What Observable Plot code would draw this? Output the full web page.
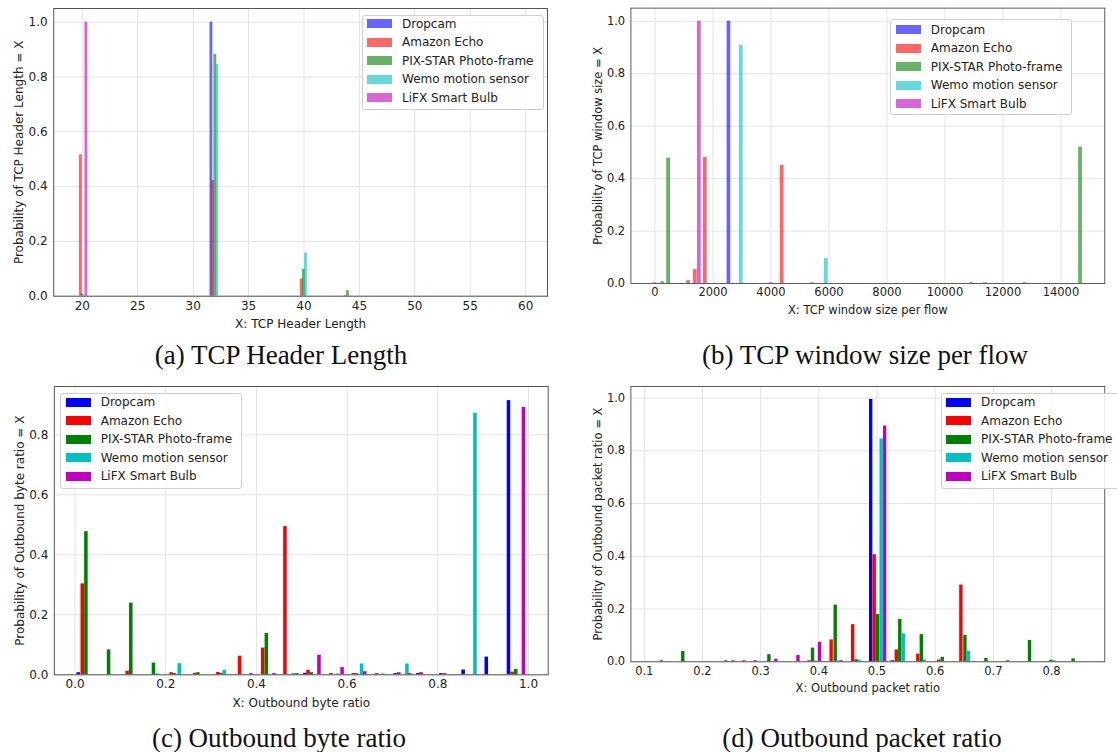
<!DOCTYPE html>
<html>
<head>
<meta charset="utf-8">
<script src="https://cdn.jsdelivr.net/npm/d3@7"></script>
<script src="https://cdn.jsdelivr.net/npm/@observablehq/plot@0.6"></script>
<style>
html, body { margin: 0; padding: 0; background: #fff; overflow: hidden; }
#root { position: relative; width: 1117px; height: 752px; overflow: hidden; font-family: "DejaVu Sans", sans-serif; }
.panel { position: absolute; }
.legend { position: absolute; box-sizing: border-box; border: 1px solid #cfcfcf; border-radius: 3px; background: rgba(255,255,255,0.85); font: 12px "DejaVu Sans", sans-serif; color: #222; }
.row { position: absolute; left: 0; height: 18.5px; display: flex; align-items: center; white-space: nowrap; }
.swatch { width: 25px; height: 9px; margin-left: 4.5px; margin-right: 10px; }
.caption { position: absolute; font-family: "Liberation Serif", "Times New Roman", serif; font-size: 27px; line-height: 28px; color: #111; white-space: nowrap; transform: translateX(-50%); }
</style>
</head>
<body>
<div id="root"></div>
<script>
// ---------- names, labels, ticks ----------
const seriesNames = ["Dropcam", "Amazon Echo", "PIX-STAR Photo-frame", "Wemo motion sensor", "LiFX Smart Bulb"];
const captions = ["(a) TCP Header Length", "(b) TCP window size per flow", "(c) Outbound byte ratio", "(d) Outbound packet ratio"];
const xLabels = ["X: TCP Header Length", "X: TCP window size per flow", "X: Outbound byte ratio", "X: Outbound packet ratio"];
const yLabels = ["Probability of TCP Header Length = X", "Probability of TCP window size = X", "Probability of Outbound byte ratio = X", "Probability of Outbound packet ratio = X"];

const hdrTicks = [20, 25, 30, 35, 40, 45, 50, 55, 60];
const winTicks = [0, 2000, 4000, 6000, 8000, 10000, 12000, 14000];
const byteTicks = [0, 0.2, 0.4, 0.6, 0.8, 1.0];
const pktTicks = [0.1, 0.2, 0.3, 0.4, 0.5, 0.6, 0.7, 0.8];
const probTicks = [0, 0.2, 0.4, 0.6, 0.8, 1.0];
const byteProbTicks = [0, 0.2, 0.4, 0.6, 0.8];

// ---------- (a) TCP header length: [bar centre, probability] ----------
const hdrDropcam = [[31.65, 1.0]];
const hdrEcho = [[19.87, 0.516], [31.8, 0.422], [39.8, 0.063], [43.75, 0.003]];
const hdrPixStar = [[20.03, 0.008], [32.0, 0.883], [40.0, 0.098], [43.97, 0.02]];
const hdrWemo = [[32.18, 0.845], [40.18, 0.157]];
const hdrLiFX = [[20.37, 1.0]];

// ---------- (b) TCP window size per flow ----------
const winDropcam = [[2550, 1.0]];
const winEcho = [[0, 0.003], [1160, 0.011], [1390, 0.053], [1735, 0.481], [4000, 0.003], [4385, 0.45], [5444, 0.003], [10923, 0.003], [11396, 0.003], [12757, 0.003]];
const winPixStar = [[270, 0.007], [470, 0.478], [14675, 0.52]];
const winWemo = [[2975, 0.909], [5910, 0.095]];
const winLiFX = [[1530, 1.0]];

// ---------- (c) Outbound byte ratio ----------
const byteDropcam = [[0.008, 0.007], [0.508, 0.005], [0.707, 0.004], [0.757, 0.004], [0.808, 0.004], [0.857, 0.016], [0.908, 0.059], [0.957, 0.914]];
const byteEcho = [[0.017, 0.303], [0.116, 0.012], [0.213, 0.007], [0.265, 0.005], [0.316, 0.008], [0.364, 0.062], [0.415, 0.089], [0.464, 0.494], [0.515, 0.015], [0.565, 0.004], [0.615, 0.004], [0.666, 0.004], [0.715, 0.007], [0.764, 0.007], [0.816, 0.004], [0.965, 0.009]];
const bytePixStar = [[0.025, 0.477], [0.075, 0.083], [0.124, 0.239], [0.174, 0.039], [0.22, 0.004], [0.272, 0.007], [0.323, 0.005], [0.423, 0.138], [0.522, 0.007], [0.621, 0.004], [0.973, 0.018]];
const byteWemo = [[0.181, 0.003], [0.231, 0.037], [0.33, 0.015], [0.482, 0.004], [0.58, 0.003], [0.633, 0.036], [0.68, 0.003], [0.733, 0.036], [0.883, 0.872]];
const byteLiFX = [[0.389, 0.004], [0.44, 0.004], [0.49, 0.004], [0.539, 0.065], [0.59, 0.024], [0.64, 0.01], [0.739, 0.004], [0.99, 0.891]];

// ---------- (d) Outbound packet ratio ----------
const pktDropcam = [[0.49, 0.995], [0.527, 0.004]];
const pktEcho = [[0.272, 0.004], [0.384, 0.004], [0.422, 0.083], [0.459, 0.141], [0.496, 0.406], [0.534, 0.045], [0.571, 0.029], [0.607, 0.007], [0.645, 0.291]];
const pktPixStar = [[0.13, 0.004], [0.167, 0.039], [0.241, 0.004], [0.315, 0.027], [0.39, 0.052], [0.429, 0.215], [0.465, 0.008], [0.502, 0.179], [0.54, 0.161], [0.577, 0.103], [0.613, 0.017], [0.652, 0.1], [0.688, 0.013], [0.725, 0.004], [0.763, 0.081], [0.8, 0.006], [0.838, 0.011]];
const pktWemo = [[0.395, 0.003], [0.433, 0.004], [0.47, 0.006], [0.508, 0.845], [0.546, 0.106], [0.582, 0.007], [0.658, 0.04], [0.805, 0.004]];
const pktLiFX = [[0.253, 0.004], [0.291, 0.004], [0.327, 0.01], [0.365, 0.024], [0.402, 0.074], [0.439, 0.004], [0.514, 0.894]];

// ---------- styling ----------
const baseColors = ["#0000ff", "#ff0000", "#008000", "#00bfbf", "#bf00bf"];
const root = document.getElementById("root");

function toRows(list) {
  return list.flatMap((arr, i) => arr.map(([x, p]) => ({series: seriesNames[i], x, p})));
}

function drawPanel(o) {
  const rows = toRows(o.series);
  const hw = o.barWidth / 2;
  const chart = Plot.plot({
    width: o.width, height: o.height,
    marginLeft: o.ml, marginRight: o.mr, marginTop: o.mt, marginBottom: o.mb,
    style: {fontFamily: "DejaVu Sans, sans-serif", fontSize: "12px", color: "#222", background: "transparent", overflow: "visible"},
    x: {domain: o.xDomain},
    y: {domain: o.yDomain},
    color: {domain: seriesNames, range: baseColors},
    marks: [
      Plot.gridX(o.xTicks, {stroke: "#e3e3e3", strokeOpacity: 1, strokeWidth: 1}),
      Plot.gridY(o.yTicks, {stroke: "#e3e3e3", strokeOpacity: 1, strokeWidth: 1}),
      Plot.rect(rows, {x1: d => d.x - hw, x2: d => d.x + hw, y1: 0, y2: "p", fill: "series", fillOpacity: o.opacity}),
      Plot.frame({stroke: "#555", strokeWidth: 1}),
      Plot.axisX(o.xTicks, {tickSize: 0, tickPadding: 5, tickFormat: o.xFormat, label: o.xLabel, labelAnchor: "center", labelArrow: "none", labelOffset: 32}),
      Plot.axisY(o.yTicks, {tickSize: 0, tickPadding: 6, tickFormat: d3.format(".1f"), label: o.yLabel, labelAnchor: "center", labelArrow: "none", labelOffset: 39})
    ]
  });
  const div = document.createElement("div");
  div.className = "panel";
  div.style.left = o.left + "px";
  div.style.top = o.top + "px";
  div.appendChild(chart);
  root.appendChild(div);
}

function drawLegend(o) {
  const box = document.createElement("div");
  box.className = "legend";
  Object.assign(box.style, {left: o.left + "px", top: o.top + "px", width: o.width + "px", height: o.height + "px"});
  seriesNames.forEach((name, i) => {
    const row = document.createElement("div");
    row.className = "row";
    row.style.top = (o.firstRow - 9.25 + i * 18.5 - 1) + "px";
    const sw = document.createElement("span");
    sw.className = "swatch";
    sw.style.background = baseColors[i];
    sw.style.opacity = o.opacity;
    const tx = document.createElement("span");
    tx.textContent = name;
    row.appendChild(sw);
    row.appendChild(tx);
    box.appendChild(row);
  });
  root.appendChild(box);
}

function drawCaption(text, cx, cy) {
  const c = document.createElement("div");
  c.className = "caption";
  c.textContent = text;
  c.style.left = cx + "px";
  c.style.top = (cy - 14) + "px";
  root.appendChild(c);
}

// (a)
drawPanel({left: 0, top: 0, width: 560, height: 340, ml: 53.2, mr: 13, mt: 8, mb: 44.3,
  xDomain: [17.42, 61.97], yDomain: [0, 1.05], xTicks: hdrTicks, yTicks: probTicks, xFormat: d3.format("d"),
  xLabel: xLabels[0], yLabel: yLabels[0], barWidth: 0.26, opacity: 0.6,
  series: [hdrDropcam, hdrEcho, hdrPixStar, hdrWemo, hdrLiFX]});
// (b)
drawPanel({left: 557, top: 0, width: 585, height: 340, ml: 76.7, mr: 13.3, mt: 8, mb: 44.3,
  xDomain: [-830, 15510], yDomain: [0, 1.05], xTicks: winTicks, yTicks: probTicks, xFormat: d3.format("d"),
  xLabel: xLabels[1], yLabel: yLabels[1], barWidth: 130, opacity: 0.6,
  series: [winDropcam, winEcho, winPixStar, winWemo, winLiFX]});
// (c)
drawPanel({left: 0, top: 370, width: 560, height: 340, ml: 53.8, mr: 12.3, mt: 16, mb: 35.7,
  xDomain: [-0.0458, 1.0435], yDomain: [0, 0.961], xTicks: byteTicks, yTicks: byteProbTicks, xFormat: d3.format(".1f"),
  xLabel: xLabels[2], yLabel: yLabels[2], barWidth: 0.0078, opacity: 1,
  series: [byteDropcam, byteEcho, bytePixStar, byteWemo, byteLiFX]});
// (d)
drawPanel({left: 557, top: 370, width: 585, height: 340, ml: 76.7, mr: 13.3, mt: 16.7, mb: 35.7,
  xDomain: [0.077, 0.8915], yDomain: [0, 1.044], xTicks: pktTicks, yTicks: probTicks, xFormat: d3.format(".1f"),
  xLabel: xLabels[3], yLabel: yLabels[3], barWidth: 0.0058, opacity: 1,
  series: [pktDropcam, pktEcho, pktPixStar, pktWemo, pktLiFX]});

drawLegend({left: 361.5, top: 14.7, width: 182, height: 95.5, firstRow: 9, opacity: 0.6});
drawLegend({left: 890.3, top: 19.3, width: 182, height: 95.7, firstRow: 10.4, opacity: 0.6});
drawLegend({left: 60.2, top: 393.3, width: 182, height: 95.7, firstRow: 9, opacity: 1});
drawLegend({left: 940.5, top: 393.3, width: 200, height: 95.7, firstRow: 9, opacity: 1});

drawCaption(captions[0], 281, 355);
drawCaption(captions[1], 865, 355);
drawCaption(captions[2], 279, 738);
drawCaption(captions[3], 862, 738);
</script>
</body>
</html>
